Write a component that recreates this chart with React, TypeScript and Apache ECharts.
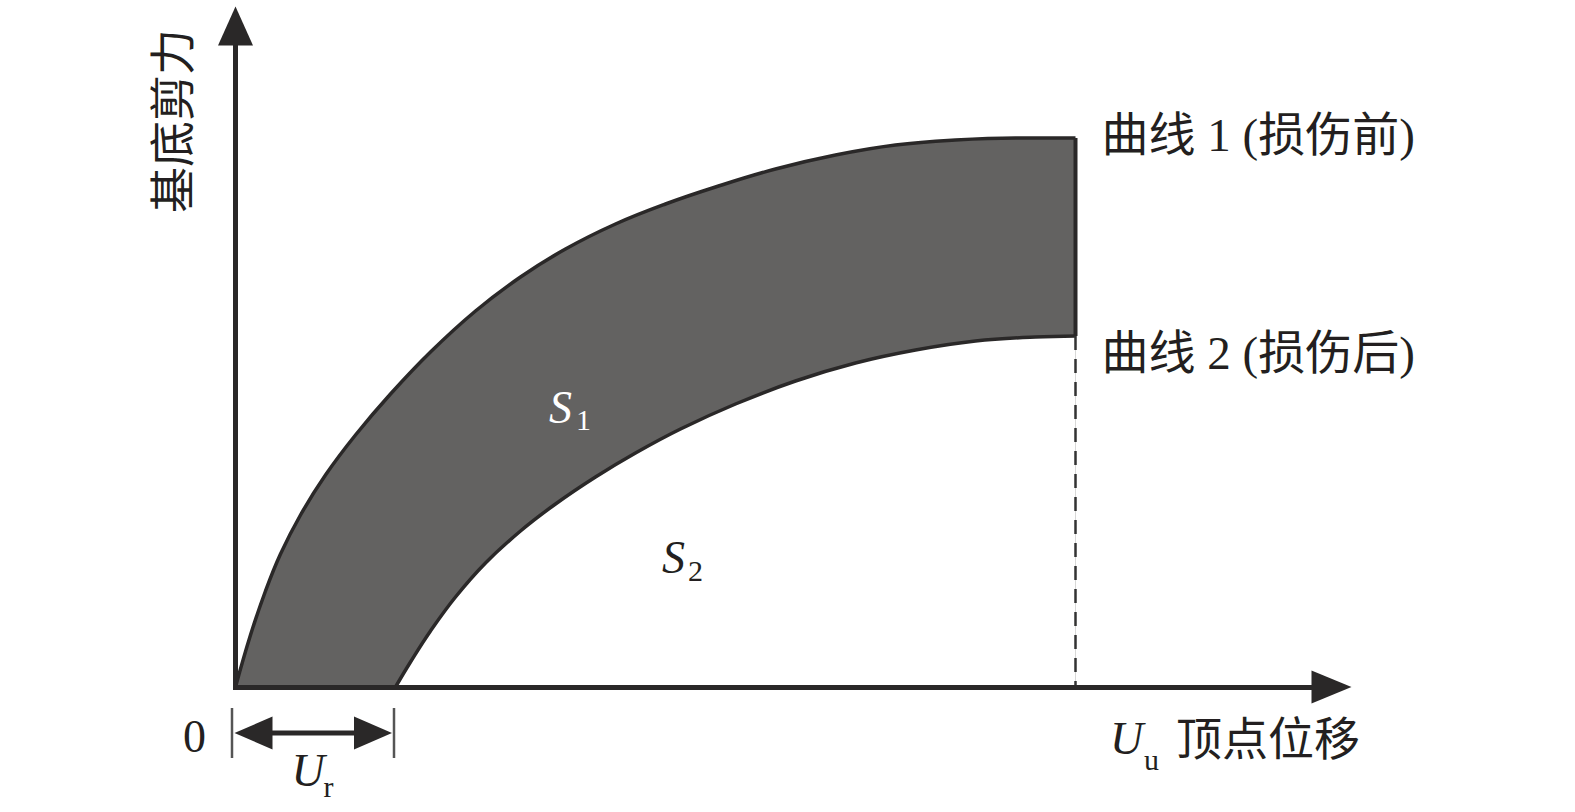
import React, { useEffect, useRef } from 'react';
import * as echarts from 'echarts';

// Schematic data (arbitrary units)
const curve1X = [0, 1.5, 3, 4.5, 6.5, 9, 12, 15.5, 19.5, 24, 28.5, 33, 38, 43, 48, 54, 60, 66, 72, 78, 84];
const curve1Y = [0, 5.2, 9.6, 13.3, 17.2, 21.2, 25.2, 29.3, 33.5, 37.6, 41.0, 43.8, 46.3, 48.3, 50.0, 51.8, 53.2, 54.2, 54.7, 54.9, 54.9];
const curve2X = [16, 17.5, 19.5, 22, 25, 28.5, 32, 36, 40, 44.5, 50, 56, 62, 68, 74, 80, 84];
const curve2Y = [0, 2.5, 5.6, 9.0, 12.4, 15.6, 18.3, 21.0, 23.4, 25.8, 28.3, 30.6, 32.4, 33.7, 34.6, 35.0, 35.1];
const Ur = 16;
const Uu = 84;
const xMax = 109.6;
const yMax = 66.1;

const label1 = '曲线 1 (损伤前)';
const label2 = '曲线 2 (损伤后)';
const yName = '基底剪力';
const xName = '顶点位移';

const FILL = '#636261';
const STROKE = '#2a2828';
const TEXT = '#231f20';
const SERIF = '"Liberation Serif", "Noto Sans CJK SC", serif';

export default function App() {
  const ref = useRef<HTMLDivElement>(null);
  useEffect(() => {
    if (!ref.current) return;
    const chart = echarts.init(ref.current, undefined, { renderer: 'svg' });
    const c1 = curve1X.map((x, i) => [x, curve1Y[i]]);
    const c2 = curve2X.map((x, i) => [x, curve2Y[i]]);
    const end1 = curve1Y[curve1Y.length - 1];
    const end2 = curve2Y[curve2Y.length - 1];
    const base = { type: 'line', symbol: 'none', smooth: 0.4, silent: true } as any;
    const axisCommon = (size: number[]) => ({
      type: 'value',
      z: 10,
      axisLine: {
        show: true,
        onZero: true,
        symbol: ['none', 'triangle'],
        symbolSize: size,
        lineStyle: { color: STROKE, width: 5, cap: 'square' },
      },
      axisTick: { show: false },
      axisLabel: { show: false },
      splitLine: { show: false },
    });
    chart.setOption({
      animation: false,
      grid: { left: 235.5, top: 26, width: 1096, height: 661 },
      xAxis: { ...axisCommon([33, 40]), min: 0, max: xMax },
      yAxis: { ...axisCommon([35, 39]), min: 0, max: yMax },
      series: [
        { ...base, data: c1, lineStyle: { opacity: 0 }, areaStyle: { color: FILL, opacity: 1 } },
        { ...base, data: c2, lineStyle: { opacity: 0 }, areaStyle: { color: '#ffffff', opacity: 1 } },
        { ...base, data: c1, lineStyle: { color: STROKE, width: 3.5 } },
        { ...base, data: c2, lineStyle: { color: STROKE, width: 3.5 } },
        { ...base, smooth: false, data: [[Uu, end1], [Uu, end2]], lineStyle: { color: STROKE, width: 4 } },
        { ...base, smooth: false, data: [[Uu, end2], [Uu, 0]], lineStyle: { color: '#333', width: 2.5, type: [14, 9] } },
      ],
    });

    const p = (x: number, y: number) => chart.convertToPixel({ gridIndex: 0 }, [x, y]) as number[];
    const o = p(0, 0);
    const u = p(Ur, 0);
    const e1 = p(Uu, end1);
    const e2 = p(Uu, end2);
    const ay = o[1] + 46;
    const txt = (x: number, y: number, text: string, size: number, extra: any = {}) => ({
      type: 'text',
      x,
      y,
      z: 100,
      silent: true,
      style: {
        text,
        fontSize: size,
        fontFamily: SERIF,
        fill: TEXT,
        align: 'left',
        verticalAlign: 'middle',
        ...extra,
      },
    });
    chart.setOption({
      graphic: [
        // Ur dimension
        { type: 'line', z: 100, shape: { x1: o[0] - 3.5, y1: o[1] + 21, x2: o[0] - 3.5, y2: o[1] + 71 }, style: { stroke: '#555', lineWidth: 2.5 } },
        { type: 'line', z: 100, shape: { x1: u[0] - 1.5, y1: o[1] + 21, x2: u[0] - 1.5, y2: o[1] + 71 }, style: { stroke: '#555', lineWidth: 2.5 } },
        { type: 'line', z: 100, shape: { x1: o[0] + 30, y1: ay, x2: u[0] - 34, y2: ay }, style: { stroke: STROKE, lineWidth: 5 } },
        { type: 'polygon', z: 100, shape: { points: [[o[0] - 1, ay], [o[0] + 37, ay - 16.5], [o[0] + 37, ay + 16.5]] }, style: { fill: STROKE } },
        { type: 'polygon', z: 100, shape: { points: [[u[0] - 3.5, ay], [u[0] - 41.5, ay - 16.5], [u[0] - 41.5, ay + 16.5]] }, style: { fill: STROKE } },
        txt(o[0] - 41, ay + 3, '0', 46, { align: 'center' }),
        txt(o[0] + 56, ay + 37, 'U', 46, { fontStyle: 'italic' }),
        txt(o[0] + 88, ay + 53, 'r', 30),
        // curve labels
        txt(e1[0] + 26, e1[1] - 3, label1, 47),
        txt(e2[0] + 26, e2[1] + 17, label2, 47),
        // x axis name
        txt(1110, o[1] + 51, 'U', 46, { fontStyle: 'italic' }),
        txt(1144, o[1] + 72, 'u', 30),
        txt(1176, o[1] + 52, xName, 46),
        // y axis name
        {
          type: 'text',
          x: 173,
          y: 121,
          z: 100,
          rotation: Math.PI / 2,
          silent: true,
          style: { text: yName, fontSize: 46, fontFamily: SERIF, fill: TEXT, align: 'center', verticalAlign: 'middle' },
        },
        // area labels
        txt(549, 407, 'S', 46, { fontStyle: 'italic', fill: '#ffffff' }),
        txt(576, 419, '1', 30, { fill: '#ffffff' }),
        txt(662, 557, 'S', 46, { fontStyle: 'italic' }),
        txt(688, 570, '2', 30),
      ],
    });
    return () => chart.dispose();
  }, []);
  return <div ref={ref} style={{ position: 'absolute', left: 0, top: 0, width: 1575, height: 812 }} />;
}
